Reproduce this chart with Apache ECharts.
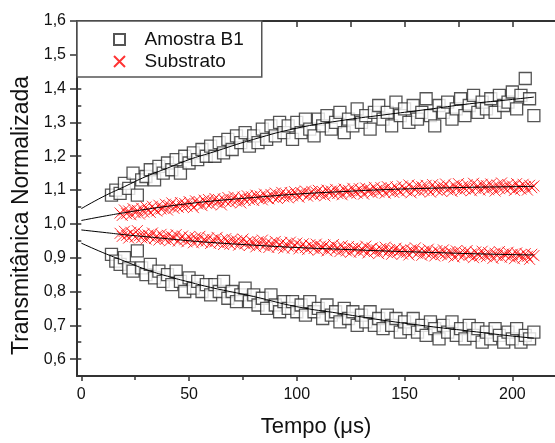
<!DOCTYPE html>
<html>
<head>
    <meta charset="UTF-8" />
    <title>Transmitância normalizada</title>
    <script src="https://cdn.jsdelivr.net/npm/echarts@6/dist/echarts.min.js"></script>
    <style>
        html, body { margin: 0; padding: 0; background: #fff; }
        #chart { width: 555px; height: 443px; }
    </style>
</head>
<body>
<div id="chart"></div>
<script type="text/javascript">
    // tempo (us) dos pontos da amostra B1
    var tB1 = [14,16,18,20,22,24,26,28,30,32,34,36,38,40,42,44,46,48,50,52,54,56,58,60,62,64,66,68,70,72,74,76,78,80,82,84,86,88,90,92,94,96,98,100,102,104,106,108,110,112,114,116,118,120,122,124,126,128,130,132,134,136,138,140,142,144,146,148,150,152,154,156,158,160,162,164,166,168,170,172,174,176,178,180,182,184,186,188,190,192,194,196,198,200,202,204,206,208,210];
    // amostra B1, ramo superior
    var b1Upper = [1.085,1.10,1.09,1.12,1.105,1.15,1.085,1.13,1.14,1.16,1.13,1.17,1.15,1.18,1.16,1.19,1.15,1.20,1.18,1.21,1.19,1.22,1.20,1.23,1.20,1.24,1.21,1.25,1.22,1.26,1.24,1.27,1.23,1.26,1.24,1.28,1.25,1.29,1.26,1.30,1.27,1.29,1.25,1.30,1.27,1.31,1.28,1.26,1.31,1.29,1.32,1.28,1.30,1.33,1.27,1.31,1.29,1.34,1.30,1.32,1.28,1.33,1.35,1.31,1.33,1.29,1.36,1.32,1.34,1.30,1.35,1.31,1.33,1.37,1.32,1.29,1.35,1.33,1.36,1.31,1.34,1.37,1.32,1.35,1.38,1.33,1.36,1.34,1.37,1.33,1.38,1.35,1.36,1.39,1.34,1.38,1.43,1.37,1.32];
    // amostra B1, ramo inferior
    var b1Lower = [0.91,0.89,0.88,0.90,0.87,0.86,0.92,0.87,0.85,0.88,0.84,0.86,0.83,0.85,0.82,0.86,0.83,0.80,0.84,0.81,0.83,0.80,0.82,0.79,0.82,0.80,0.83,0.78,0.80,0.77,0.79,0.81,0.77,0.79,0.76,0.78,0.75,0.79,0.76,0.74,0.77,0.75,0.77,0.74,0.76,0.73,0.77,0.74,0.75,0.72,0.76,0.73,0.74,0.71,0.75,0.72,0.74,0.70,0.73,0.71,0.74,0.70,0.72,0.69,0.73,0.70,0.72,0.68,0.71,0.69,0.72,0.68,0.70,0.67,0.71,0.69,0.66,0.70,0.68,0.71,0.67,0.69,0.66,0.70,0.67,0.69,0.65,0.68,0.66,0.69,0.67,0.65,0.68,0.66,0.69,0.65,0.67,0.66,0.68];

    // tempo (us) dos pontos do substrato
    var tSub = [18,19,20,21,22,23,24,25,26,27,28,29,30,31,32,33,34,35,36,37,38,39,40,41,42,43,44,45,46,47,48,49,50,51,52,53,54,55,56,57,58,59,60,61,62,63,64,65,66,67,68,69,70,71,72,73,74,75,76,77,78,79,80,81,82,83,84,85,86,87,88,89,90,91,92,93,94,95,96,97,98,99,100,101,102,103,104,105,106,107,108,109,110,111,112,113,114,115,116,117,118,119,120,121,122,123,124,125,126,127,128,129,130,131,132,133,134,135,136,137,138,139,140,141,142,143,144,145,146,147,148,149,150,151,152,153,154,155,156,157,158,159,160,161,162,163,164,165,166,167,168,169,170,171,172,173,174,175,176,177,178,179,180,181,182,183,184,185,186,187,188,189,190,191,192,193,194,195,196,197,198,199,200,201,202,203,204,205,206,207,208,209,210];
    // substrato, ramo superior
    var subUpper = [
        1.032,1.025,1.041,1.030,1.038,1.027,1.045,1.033,1.040,1.029,
        1.046,1.035,1.050,1.040,1.034,1.052,1.043,1.038,1.055,1.044,
        1.047,1.058,1.041,1.053,1.062,1.046,1.055,1.049,1.063,1.051,
        1.060,1.052,1.066,1.057,1.048,1.068,1.059,1.064,1.054,1.070,
        1.061,1.072,1.058,1.067,1.075,1.063,1.070,1.056,1.073,1.066,
        1.078,1.064,1.071,1.080,1.067,1.074,1.062,1.079,1.070,1.083,
        1.072,1.080,1.069,1.085,1.076,1.082,1.071,1.088,1.078,1.074,
        1.087,1.079,1.091,1.075,1.084,1.093,1.080,1.088,1.077,1.092,
        1.083,1.095,1.086,1.079,1.092,1.088,1.097,1.082,1.090,1.096,
        1.085,1.093,1.099,1.087,1.095,1.083,1.100,1.091,1.097,1.088,
        1.102,1.090,1.096,1.086,1.103,1.094,1.099,1.089,1.105,1.095,
        1.091,1.104,1.098,1.088,1.106,1.096,1.101,1.092,1.108,1.099,
        1.094,1.107,1.101,1.091,1.110,1.097,1.104,1.093,1.109,1.100,
        1.095,1.112,1.103,1.098,1.115,1.092,1.107,1.101,1.113,1.096,
        1.110,1.099,1.114,1.102,1.094,1.116,1.105,1.100,1.112,1.097,
        1.109,1.118,1.101,1.107,1.096,1.114,1.104,1.119,1.099,1.111,
        1.103,1.116,1.107,1.098,1.120,1.105,1.112,1.100,1.117,1.106,
        1.113,1.101,1.118,1.108,1.097,1.115,1.104,1.121,1.109,1.102,
        1.116,1.106,1.112,1.099,1.119,1.108,1.103,1.117,1.110,1.100,
        1.114,1.107,1.112];
    // substrato, ramo inferior
    var subLower = [
        0.972,0.963,0.978,0.966,0.958,0.975,0.968,0.961,0.980,0.965,
        0.959,0.970,0.955,0.967,0.962,0.973,0.957,0.964,0.952,0.969,
        0.960,0.954,0.966,0.950,0.962,0.957,0.968,0.949,0.958,0.964,
        0.953,0.947,0.961,0.955,0.944,0.959,0.950,0.963,0.946,0.954,
        0.949,0.958,0.942,0.953,0.947,0.960,0.944,0.951,0.939,0.956,
        0.946,0.940,0.954,0.943,0.950,0.937,0.948,0.955,0.941,0.946,
        0.936,0.949,0.943,0.932,0.947,0.939,0.952,0.935,0.944,0.930,
        0.942,0.936,0.948,0.931,0.939,0.945,0.928,0.940,0.934,0.946,
        0.929,0.937,0.943,0.926,0.935,0.941,0.930,0.924,0.938,0.933,
        0.927,0.940,0.922,0.934,0.929,0.937,0.920,0.931,0.926,0.939,
        0.923,0.930,0.918,0.935,0.926,0.920,0.933,0.916,0.928,0.924,
        0.931,0.917,0.926,0.921,0.934,0.914,0.925,0.929,0.918,0.923,
        0.912,0.927,0.920,0.931,0.915,0.924,0.910,0.922,0.928,0.917,
        0.921,0.911,0.926,0.916,0.908,0.923,0.918,0.929,0.913,0.920,
        0.907,0.919,0.914,0.925,0.910,0.917,0.905,0.921,0.915,0.909,
        0.923,0.912,0.906,0.918,0.913,0.902,0.920,0.909,0.916,0.904,
        0.914,0.921,0.907,0.911,0.900,0.917,0.910,0.905,0.919,0.908,
        0.903,0.915,0.909,0.898,0.913,0.906,0.918,0.901,0.911,0.907,
        0.916,0.902,0.910,0.897,0.914,0.905,0.909,0.899,0.912,0.904,
        0.895,0.910,0.906];

    // curvas de ajuste (pretas)
    var tFit = [0,10,20,30,40,50,60,80,100,120,140,160,180,200,210];
    var fitB1Upper = [1.045,1.08,1.11,1.14,1.165,1.19,1.21,1.25,1.283,1.305,1.322,1.338,1.355,1.368,1.375];
    var fitB1Lower = [0.943,0.915,0.89,0.865,0.845,0.828,0.812,0.785,0.755,0.735,0.715,0.698,0.683,0.668,0.662];
    var fitSubUpper = [1.010,1.022,1.033,1.043,1.052,1.060,1.067,1.078,1.088,1.095,1.101,1.105,1.108,1.110,1.111];
    var fitSubLower = [0.982,0.975,0.968,0.962,0.956,0.950,0.945,0.937,0.930,0.925,0.920,0.916,0.912,0.909,0.908];

    // ticks
    var xMajor = [0,50,100,150,200];
    var xMinor = [25,75,125,175];
    var xTop = [0,25,50,75,100,125,150,175,200];
    var yMajor = [0.6,0.7,0.8,0.9,1.0,1.1,1.2,1.3,1.4,1.5,1.6];
    var yMinor = [0.65,0.75,0.85,0.95,1.05,1.15,1.25,1.35,1.45,1.55];

    var FONT = "'Liberation Sans', Arial, sans-serif";
    var AXIS_COLOR = '#333';
    var CROSS = 'path://M0,0L10,10M10,0L0,10';
    var SQUARE = 'path://M0,0L10,0L10,10L0,10Z';

    function pairs(xs, ys) {
        var out = [];
        for (var i = 0; i < xs.length; i++) {
            out.push([xs[i], ys[i]]);
        }
        return out;
    }

    function xAxisBase(pos) {
        return {
            type: 'value', position: pos, min: -2, max: 219.8,
            splitLine: { show: false },
            axisLine: { show: false },
            axisTick: { show: false },
            axisLabel: { show: false }
        };
    }
    function yAxisBase(pos) {
        return {
            type: 'value', position: pos, min: 0.55, max: 1.6,
            splitLine: { show: false },
            axisLine: { show: false },
            axisTick: { show: false },
            axisLabel: { show: false }
        };
    }

    // eixo x inferior (principal)
    var xMain = xAxisBase('bottom');
    xMain.axisLine = { show: true, onZero: false, lineStyle: { color: AXIS_COLOR, width: 2 } };
    xMain.axisTick = { show: true, length: 5, customValues: xMajor, lineStyle: { color: AXIS_COLOR, width: 1.5 } };
    xMain.axisLabel = { show: true, customValues: xMajor, margin: 11, fontSize: 16, color: '#111', fontFamily: FONT };
    xMain.name = 'Tempo (\u03bcs)';
    xMain.nameLocation = 'middle';
    xMain.nameGap = 40;
    xMain.nameTextStyle = { fontSize: 22, color: '#111', fontFamily: FONT };

    var xMin = xAxisBase('bottom');
    xMin.axisTick = { show: true, length: 4, customValues: xMinor, lineStyle: { color: AXIS_COLOR, width: 1.5 } };

    var xTopAxis = xAxisBase('top');
    xTopAxis.axisLine = { show: true, onZero: false, lineStyle: { color: AXIS_COLOR, width: 2 } };
    xTopAxis.axisTick = { show: true, inside: true, length: 6, customValues: xTop, lineStyle: { color: AXIS_COLOR, width: 1.5 } };

    // eixo y esquerdo
    var yMain = yAxisBase('left');
    yMain.axisLine = { show: true, onZero: false, lineStyle: { color: AXIS_COLOR, width: 2 } };
    yMain.axisTick = { show: true, length: 7, customValues: yMajor, lineStyle: { color: AXIS_COLOR, width: 1.5 } };
    yMain.axisLabel = {
        show: true, customValues: yMajor, margin: 11, fontSize: 16, color: '#111', fontFamily: FONT,
        formatter: function (v) { return v.toFixed(1).replace('.', ','); }
    };
    yMain.name = 'Transmit\u00e2nica Normalizada';
    yMain.nameLocation = 'middle';
    yMain.nameGap = 39;
    yMain.nameTextStyle = { fontSize: 23, color: '#111', fontFamily: FONT, padding: [0, 34, 0, 0] };

    var yMinLeft = yAxisBase('left');
    yMinLeft.axisTick = { show: true, length: 4, customValues: yMinor, lineStyle: { color: AXIS_COLOR, width: 1.5 } };

    // eixo direito: so os ticks (a linha fica fora da janela)
    var yRight = yAxisBase('right');
    yRight.axisTick = { show: true, inside: true, length: 5, customValues: yMajor, lineStyle: { color: AXIS_COLOR, width: 1.5 } };

    var yRightMin = yAxisBase('right');
    yRightMin.axisTick = { show: true, inside: true, length: 3, customValues: yMinor, lineStyle: { color: AXIS_COLOR, width: 1.5 } };

    var squareStyle = { color: '#fff', borderColor: '#2a2a2a', borderWidth: 1.3 };
    var crossStyle = { color: 'rgba(0,0,0,0)', borderColor: '#ff0000', borderWidth: 1 };

    function fitLine(name, ys) {
        return {
            name: name, type: 'line', data: pairs(tFit, ys), smooth: true,
            showSymbol: false, symbol: 'none', silent: true, z: 5,
            lineStyle: { color: '#000', width: 1 }
        };
    }

    var chart = echarts.init(document.getElementById('chart'), null, { renderer: 'canvas' });
    chart.setOption({
        animation: false,
        backgroundColor: '#fff',
        grid: { left: 77, top: 21, width: 479, height: 358, containLabel: false },
        legend: {
            orient: 'vertical', left: 77, top: 21,
            padding: [9, 18, 6, 36],
            itemWidth: 40, itemHeight: 11, itemGap: 3,
            backgroundColor: '#fff', borderColor: '#555', borderWidth: 1.5,
            textStyle: { fontSize: 19, color: '#111', fontFamily: FONT },
            data: [{ name: 'Amostra B1', icon: SQUARE }, { name: 'Substrato', icon: CROSS }]
        },
        xAxis: [xMain, xMin, xTopAxis],
        yAxis: [yMain, yMinLeft, yRight, yRightMin],
        series: [
            { name: 'Amostra B1', type: 'scatter', symbol: 'rect', symbolSize: 12, data: pairs(tB1, b1Upper), itemStyle: squareStyle, z: 2 },
            { name: 'Amostra B1', type: 'scatter', symbol: 'rect', symbolSize: 12, data: pairs(tB1, b1Lower), itemStyle: squareStyle, z: 2 },
            { name: 'Substrato', type: 'scatter', symbol: CROSS, symbolSize: 11, data: pairs(tSub, subUpper), itemStyle: crossStyle, z: 3 },
            { name: 'Substrato', type: 'scatter', symbol: CROSS, symbolSize: 11, data: pairs(tSub, subLower), itemStyle: crossStyle, z: 3 },
            fitLine('ajuste B1 sup', fitB1Upper),
            fitLine('ajuste B1 inf', fitB1Lower),
            fitLine('ajuste sub sup', fitSubUpper),
            fitLine('ajuste sub inf', fitSubLower)
        ]
    });
</script>
</body>
</html>
